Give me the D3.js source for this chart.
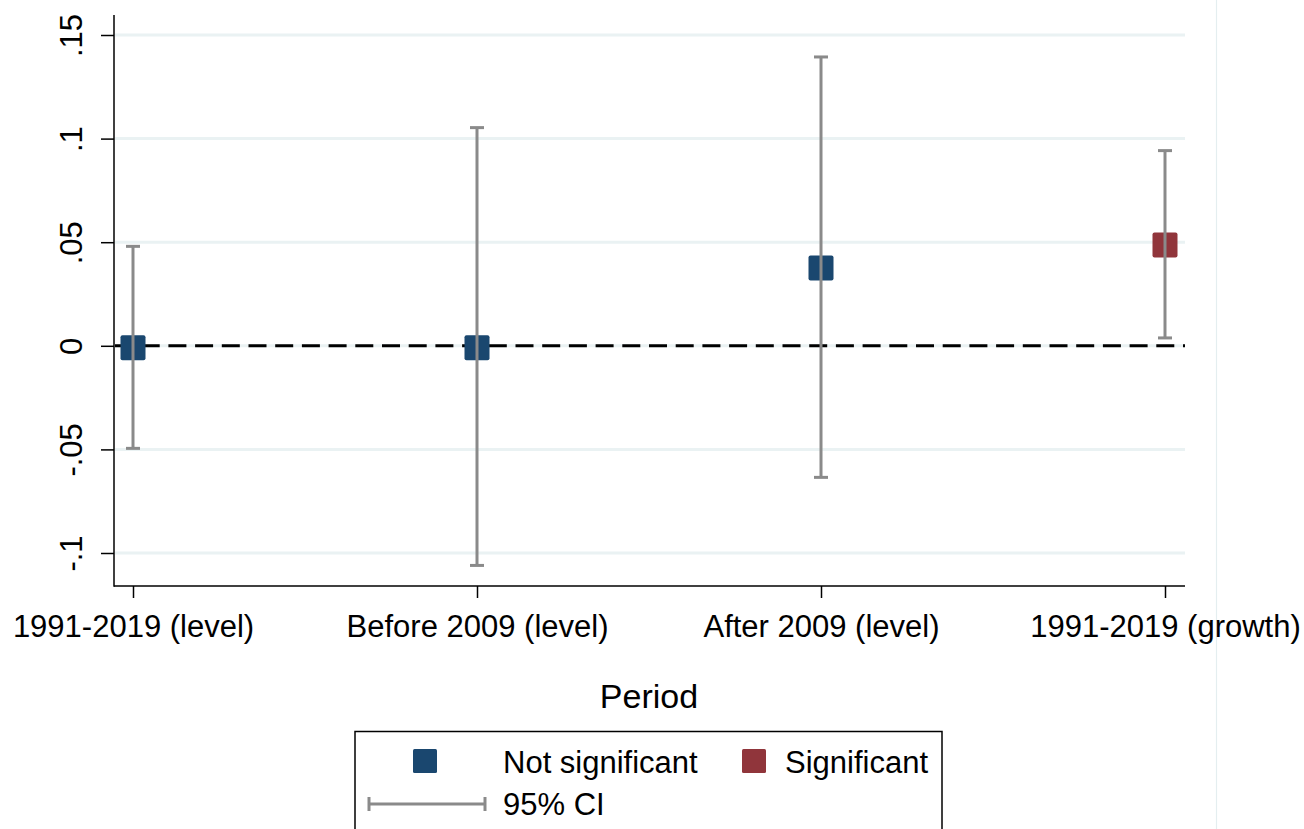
<!DOCTYPE html>
<html>
<head>
<meta charset="utf-8">
<script src="https://cdn.jsdelivr.net/npm/d3@7"></script>
<style>
  html, body { margin: 0; padding: 0; background: #fff; }
  svg { display: block; }
  text { font-family: "Liberation Sans", Arial, Helvetica, sans-serif; fill: #000; }
</style>
</head>
<body>
<svg id="chart" width="1304" height="829"></svg>
<script>
// Estimates by period with 95% confidence intervals
const periods = ["1991-2019 (level)", "Before 2009 (level)", "After 2009 (level)", "1991-2019 (growth)"];
const estimates = [-0.001, -0.001, 0.0375, 0.0486];
const ciLow = [-0.0495, -0.106, -0.0635, 0.0038];
const ciHigh = [0.048, 0.1053, 0.1394, 0.0942];
const significant = [false, false, false, true];
const yTicks = [-0.1, -0.05, 0, 0.05, 0.1, 0.15];
const yTickLabels = ["-.1", "-.05", "0", ".05", ".1", ".15"];
const xTitle = "Period";
const legendLabels = ["Not significant", "Significant", "95% CI"];

const colNotSig = "#1a476f";
const colSig = "#90353b";
const colCI = "#8a8a8a";
const colGrid = "#eaf2f3";
const fontSize = 31;

const svg = d3.select("#chart");
const plot = { left: 114, right: 1185, top: 15, bottom: 586 };

const y = d3.scaleLinear().domain([-0.1, 0.15]).range([553, 35]);
const x = d3.scalePoint().domain(periods).range([133, 1165]);

// faint outer frame line on the right
svg.append("line")
  .attr("x1", 1216.5).attr("x2", 1216.5).attr("y1", 0).attr("y2", 829)
  .attr("stroke", "#e4eef0").attr("stroke-width", 1.2);

// horizontal grid
svg.append("g").selectAll("line").data(yTicks).join("line")
  .attr("x1", plot.left + 1).attr("x2", plot.right)
  .attr("y1", d => y(d)).attr("y2", d => y(d))
  .attr("stroke", colGrid).attr("stroke-width", 3);

// zero reference line
svg.append("line")
  .attr("x1", plot.left + 1).attr("x2", plot.right)
  .attr("y1", y(0)).attr("y2", y(0))
  .attr("stroke", "#000").attr("stroke-width", 3)
  .attr("stroke-dasharray", "18 8.7");

// y axis
const yAxis = d3.axisLeft(y).tickValues(yTicks).tickSize(13)
  .tickFormat((d, i) => yTickLabels[i]);
const gy = svg.append("g").attr("transform", `translate(${plot.left},0)`).call(yAxis);
gy.select(".domain").remove();
gy.selectAll(".tick line").attr("stroke", "#000").attr("stroke-width", 1.5);
gy.selectAll(".tick text")
  .attr("font-size", fontSize)
  .attr("font-family", "'Liberation Sans', Arial, sans-serif")
  .attr("fill", "#000")
  .attr("text-anchor", "middle")
  .attr("dy", null)
  .attr("x", null)
  .attr("transform", "translate(-32,0) rotate(-90)")
  .attr("y", 0);
svg.append("line")
  .attr("x1", plot.left).attr("x2", plot.left)
  .attr("y1", plot.top).attr("y2", plot.bottom + 0.75)
  .attr("stroke", "#000").attr("stroke-width", 1.5);

// x axis
const xAxis = d3.axisBottom(x).tickSize(12).tickPadding(8);
const gx = svg.append("g").attr("transform", `translate(0,${plot.bottom})`).call(xAxis);
gx.select(".domain").remove();
gx.selectAll(".tick line").attr("stroke", "#000").attr("stroke-width", 1.5);
gx.selectAll(".tick text")
  .attr("font-size", fontSize)
  .attr("font-family", "'Liberation Sans', Arial, sans-serif")
  .attr("fill", "#000")
  .attr("dy", null)
  .attr("y", 51);
svg.append("line")
  .attr("x1", plot.left).attr("x2", plot.right)
  .attr("y1", plot.bottom).attr("y2", plot.bottom)
  .attr("stroke", "#000").attr("stroke-width", 1.5);

// x axis title
svg.append("text")
  .attr("x", 649).attr("y", 708)
  .attr("text-anchor", "middle")
  .attr("font-size", 34)
  .text(xTitle);

// point markers
const msize = 25;
svg.append("g").selectAll("rect").data(periods).join("rect")
  .attr("x", d => x(d) - msize / 2)
  .attr("y", (d, i) => y(estimates[i]) - msize / 2)
  .attr("width", msize).attr("height", msize)
  .attr("rx", 2)
  .attr("fill", (d, i) => significant[i] ? colSig : colNotSig);

// confidence intervals, drawn over the markers
const ci = svg.append("g").attr("stroke", colCI).attr("stroke-width", 3).attr("fill", "none");
const capW = 14;
periods.forEach((p, i) => {
  const cx = x(p);
  ci.append("line").attr("x1", cx).attr("x2", cx).attr("y1", y(ciHigh[i])).attr("y2", y(ciLow[i]));
  ci.append("line").attr("x1", cx - capW / 2).attr("x2", cx + capW / 2).attr("y1", y(ciHigh[i])).attr("y2", y(ciHigh[i]));
  ci.append("line").attr("x1", cx - capW / 2).attr("x2", cx + capW / 2).attr("y1", y(ciLow[i])).attr("y2", y(ciLow[i]));
});

// legend
const lg = svg.append("g");
lg.append("rect")
  .attr("x", 355).attr("y", 731.5).attr("width", 587).attr("height", 110)
  .attr("fill", "#fff").attr("stroke", "#000").attr("stroke-width", 1.5);
lg.append("rect").attr("x", 413).attr("y", 749).attr("width", 24).attr("height", 24).attr("rx", 1.5).attr("fill", colNotSig);
lg.append("text").attr("x", 503).attr("y", 773).attr("font-size", fontSize).text(legendLabels[0]);
lg.append("rect").attr("x", 742).attr("y", 749).attr("width", 24).attr("height", 24).attr("rx", 1.5).attr("fill", colSig);
lg.append("text").attr("x", 785).attr("y", 773).attr("font-size", fontSize).text(legendLabels[1]);
const lci = lg.append("g").attr("stroke", colCI).attr("stroke-width", 3);
lci.append("line").attr("x1", 369).attr("x2", 485).attr("y1", 804).attr("y2", 804);
lci.append("line").attr("x1", 369).attr("x2", 369).attr("y1", 797).attr("y2", 811);
lci.append("line").attr("x1", 485).attr("x2", 485).attr("y1", 797).attr("y2", 811);
lg.append("text").attr("x", 503).attr("y", 815).attr("font-size", fontSize).text(legendLabels[2]);
</script>
</body>
</html>
